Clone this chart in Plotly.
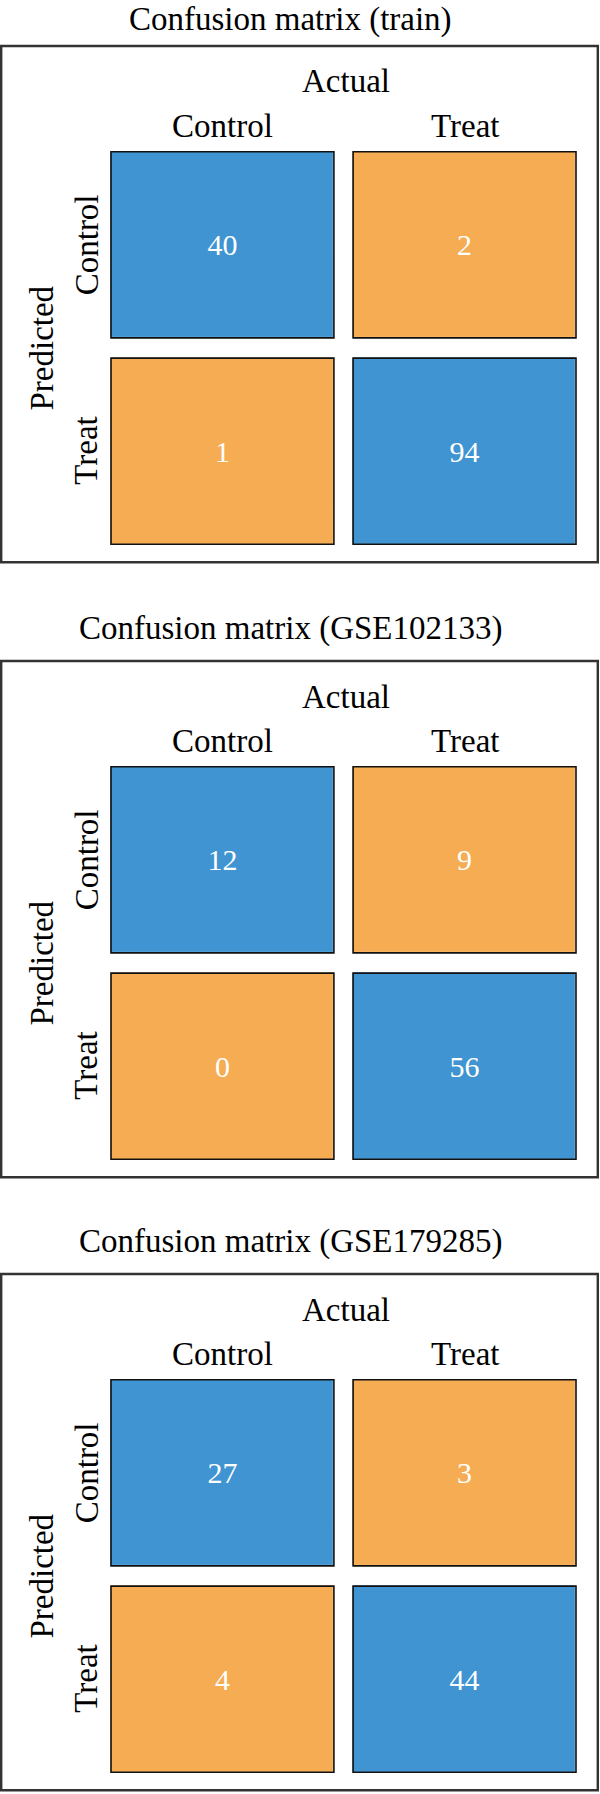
import plotly.graph_objects as go

# ---------------- data ----------------
titles = ["Confusion matrix (train)",
          "Confusion matrix (GSE102133)",
          "Confusion matrix (GSE179285)"]
classes = ["Control", "Treat"]          # actual (columns) and predicted (rows)
counts_train = [[40, 2], [1, 94]]       # rows: predicted, cols: actual
counts_gse102133 = [[12, 9], [0, 56]]
counts_gse179285 = [[27, 3], [4, 44]]
matrices = [counts_train, counts_gse102133, counts_gse179285]

# ---------------- style / layout ----------------
W, H = 600, 1794
FONT = "Liberation Serif"
BLUE = "#3F94D1"
ORANGE = "#F5AC52"
TXT = "#000000"
panel_offsets = [0, 615, 1228]   # px offset of each panel

# panel-relative pixel geometry
X_DOM = (101.4, 585.6)
Y_DOM = (141.6, 554.4)
XGAP, YGAP = 19.2, 20.2
BOX = (1.2, 46, 597.8, 562.3)

def px_x(p):
    return p / W

def px_y(p):
    return 1 - p / H

fig = go.Figure()
shapes = []
annotations = []

for k, (title, cm) in enumerate(zip(titles, matrices)):
    o = panel_offsets[k]
    xa = "x" if k == 0 else f"x{k+1}"
    ya = "y" if k == 0 else f"y{k+1}"
    correct = [[1 if i == j else 0 for j in range(len(classes))] for i in range(len(classes))]
    fig.add_trace(go.Heatmap(
        x=classes, y=classes, z=correct,
        text=[[str(v) for v in row] for row in cm],
        texttemplate="%{text}",
        textfont=dict(family=FONT, size=30, color="white"),
        colorscale=[[0, ORANGE], [1, BLUE]], zmin=0, zmax=1,
        showscale=False, xgap=XGAP, ygap=YGAP, hoverinfo="skip",
        xaxis=xa, yaxis=ya,
    ))
    axis_common = dict(showgrid=False, zeroline=False, showticklabels=False,
                       ticks="", showline=False, fixedrange=True)
    fig.update_layout(**{
        ("xaxis" if k == 0 else f"xaxis{k+1}"): dict(
            domain=[px_x(X_DOM[0]), px_x(X_DOM[1])], anchor=ya,
            range=[-0.5, 1.5], **axis_common),
        ("yaxis" if k == 0 else f"yaxis{k+1}"): dict(
            domain=[px_y(Y_DOM[1] + o), px_y(Y_DOM[0] + o)], anchor=xa,
            range=[1.5, -0.5], **axis_common),
    })
    # cell outlines (in data units of the axes)
    hx = XGAP / (X_DOM[1] - X_DOM[0])
    hy = YGAP / (Y_DOM[1] - Y_DOM[0])
    for i in range(len(classes)):
        for j in range(len(classes)):
            shapes.append(dict(type="rect", xref=xa, yref=ya,
                               x0=j - 0.5 + hx, x1=j + 0.5 - hx,
                               y0=i - 0.5 + hy, y1=i + 0.5 - hy,
                               line=dict(color="#111111", width=1.6),
                               fillcolor="rgba(0,0,0,0)", layer="above"))
    # outer frame
    shapes.append(dict(type="rect", xref="paper", yref="paper",
                       x0=px_x(BOX[0]), x1=px_x(BOX[2]),
                       y0=px_y(BOX[3] + o), y1=px_y(BOX[1] + o),
                       line=dict(color="#333333", width=2.4)))
    # title (the first one is kept fully inside the page)
    if k == 0:
        annotations.append(dict(text=title, xref="paper", yref="paper",
                                x=px_x(290.5), y=1.0, borderpad=0,
                                xanchor="center", yanchor="top", showarrow=False,
                                font=dict(family=FONT, size=33, color=TXT)))
    else:
        annotations.append(dict(text=title, xref="paper", yref="paper",
                                x=px_x(290.5), y=px_y(13.6 + o),
                                xanchor="center", yanchor="middle", showarrow=False,
                                font=dict(family=FONT, size=33, color=TXT)))
    # "Actual"
    annotations.append(dict(text="Actual", xref="paper", yref="paper",
                            x=px_x(346), y=px_y(81.5 + o),
                            xanchor="center", yanchor="middle", showarrow=False,
                            font=dict(family=FONT, size=33, color=TXT)))
    # "Predicted"
    annotations.append(dict(text="Predicted", xref="paper", yref="paper",
                            x=px_x(41.5), y=px_y(348 + o), textangle=-90,
                            xanchor="center", yanchor="middle", showarrow=False,
                            font=dict(family=FONT, size=33, color=TXT)))
    # column labels (actual)
    for c in classes:
        annotations.append(dict(text=c, xref=xa, yref="paper",
                                x=c, y=px_y(126.3 + o),
                                xanchor="center", yanchor="middle", showarrow=False,
                                font=dict(family=FONT, size=33, color=TXT)))
    # row labels (predicted)
    for r in classes:
        annotations.append(dict(text=r, xref="paper", yref=ya,
                                x=px_x(86.5), y=r, textangle=-90,
                                xanchor="center", yanchor="middle", showarrow=False,
                                font=dict(family=FONT, size=33, color=TXT)))

fig.update_layout(width=W, height=H, margin=dict(l=0, r=0, t=0, b=0),
                  paper_bgcolor="white", plot_bgcolor="white",
                  shapes=shapes, annotations=annotations, showlegend=False)

fig.write_html("out.html", config={"displayModeBar": False})
